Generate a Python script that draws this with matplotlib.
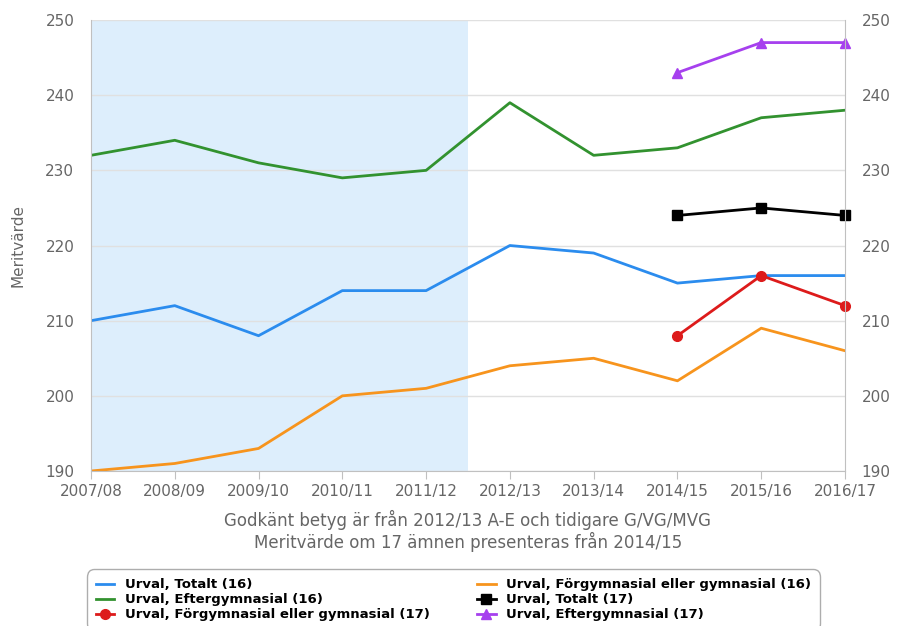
import matplotlib
matplotlib.use('Agg')
import matplotlib.pyplot as plt
import numpy as np

plt.rcParams['font.family'] = ['DejaVu Sans']

# --- data ---
years = ['2007/08', '2008/09', '2009/10', '2010/11', '2011/12',
         '2012/13', '2013/14', '2014/15', '2015/16', '2016/17']
totalt_16 = [210, 212, 208, 214, 214, 220, 219, 215, 216, 216]
efter_16 = [232, 234, 231, 229, 230, 239, 232, 233, 237, 238]
forgym_16 = [190, 191, 193, 200, 201, 204, 205, 202, 209, 206]
years_17 = ['2014/15', '2015/16', '2016/17']
totalt_17 = [224, 225, 224]
forgym_17 = [208, 216, 212]
efter_17 = [243, 247, 247]

C_BLUE = '#2B8CEE'
C_GREEN = '#32922F'
C_ORANGE = '#F7941D'
C_BLACK = '#000000'
C_RED = '#DD1B1B'
C_PURPLE = '#A640EE'
GRAY = '#666666'

fig = plt.figure(figsize=(8.98, 6.26), dpi=100)
ax = fig.add_axes([0.1013, 0.2476, 0.8397, 0.7204])

x = np.arange(len(years))
x17 = np.array([years.index(y) for y in years_17])

# shaded band for old grading system
ax.axvspan(-0.5, 4.5, color='#DDEEFC', zorder=0, lw=0)

h1, = ax.plot(x, totalt_16, color=C_BLUE, lw=2, label='Urval, Totalt (16)')
h2, = ax.plot(x, efter_16, color=C_GREEN, lw=2, label='Urval, Eftergymnasial (16)')
h3, = ax.plot(x, forgym_16, color=C_ORANGE, lw=2, label='Urval, Förgymnasial eller gymnasial (16)')
h4, = ax.plot(x17, totalt_17, color=C_BLACK, lw=2, marker='s', ms=7,
              label='Urval, Totalt (17)', clip_on=False)
h5, = ax.plot(x17, forgym_17, color=C_RED, lw=2, marker='o', ms=7,
              label='Urval, Förgymnasial eller gymnasial (17)', clip_on=False)
h6, = ax.plot(x17, efter_17, color=C_PURPLE, lw=2, marker='^', ms=7,
              label='Urval, Eftergymnasial (17)', clip_on=False)

ax.set_xlim(0, 9)
ax.set_ylim(190, 250)
yt = np.arange(190, 251, 10)
ax.set_yticks(yt)
ax.set_xticks(x)
ax.set_xticklabels(years)
ax.grid(axis='y', color='#E0E0E0', lw=1)
ax.set_axisbelow(True)

for side in ['left', 'right', 'bottom']:
    ax.spines[side].set_color('#C0C0C0')
ax.spines['top'].set_visible(False)
ax.tick_params(axis='y', length=0, colors=GRAY, labelsize=11, pad=12)
ax.tick_params(axis='x', length=6, color='#C0C0C0', colors=GRAY, labelsize=11, pad=3)
ax.set_ylabel('Meritvärde', color=GRAY, fontsize=11, labelpad=14)

ax2 = ax.twinx()
ax2.set_ylim(190, 250)
ax2.set_yticks(yt)
ax2.tick_params(axis='y', length=0, colors=GRAY, labelsize=11, pad=12)
for s in ax2.spines.values():
    s.set_visible(False)

ax.set_xlabel('Godkänt betyg är från 2012/13 A-E och tidigare G/VG/MVG\n'
              'Meritvärde om 17 ämnen presenteras från 2014/15',
              color=GRAY, fontsize=12, labelpad=8, linespacing=1.15)

leg = fig.legend(handles=[h1, h2, h5, h3, h4, h6], ncol=2,
                 loc='upper left', bbox_to_anchor=(0.092, 0.097),
                 frameon=True, handlelength=1.4,
                 columnspacing=3.6, labelspacing=0.15, borderpad=0.5,
                 prop={'weight': 'bold', 'size': 9.5})
leg.get_frame().set_edgecolor('#999999')
leg.get_frame().set_boxstyle('round,pad=0.2,rounding_size=0.6')

fig.savefig('out.png', dpi=100)
